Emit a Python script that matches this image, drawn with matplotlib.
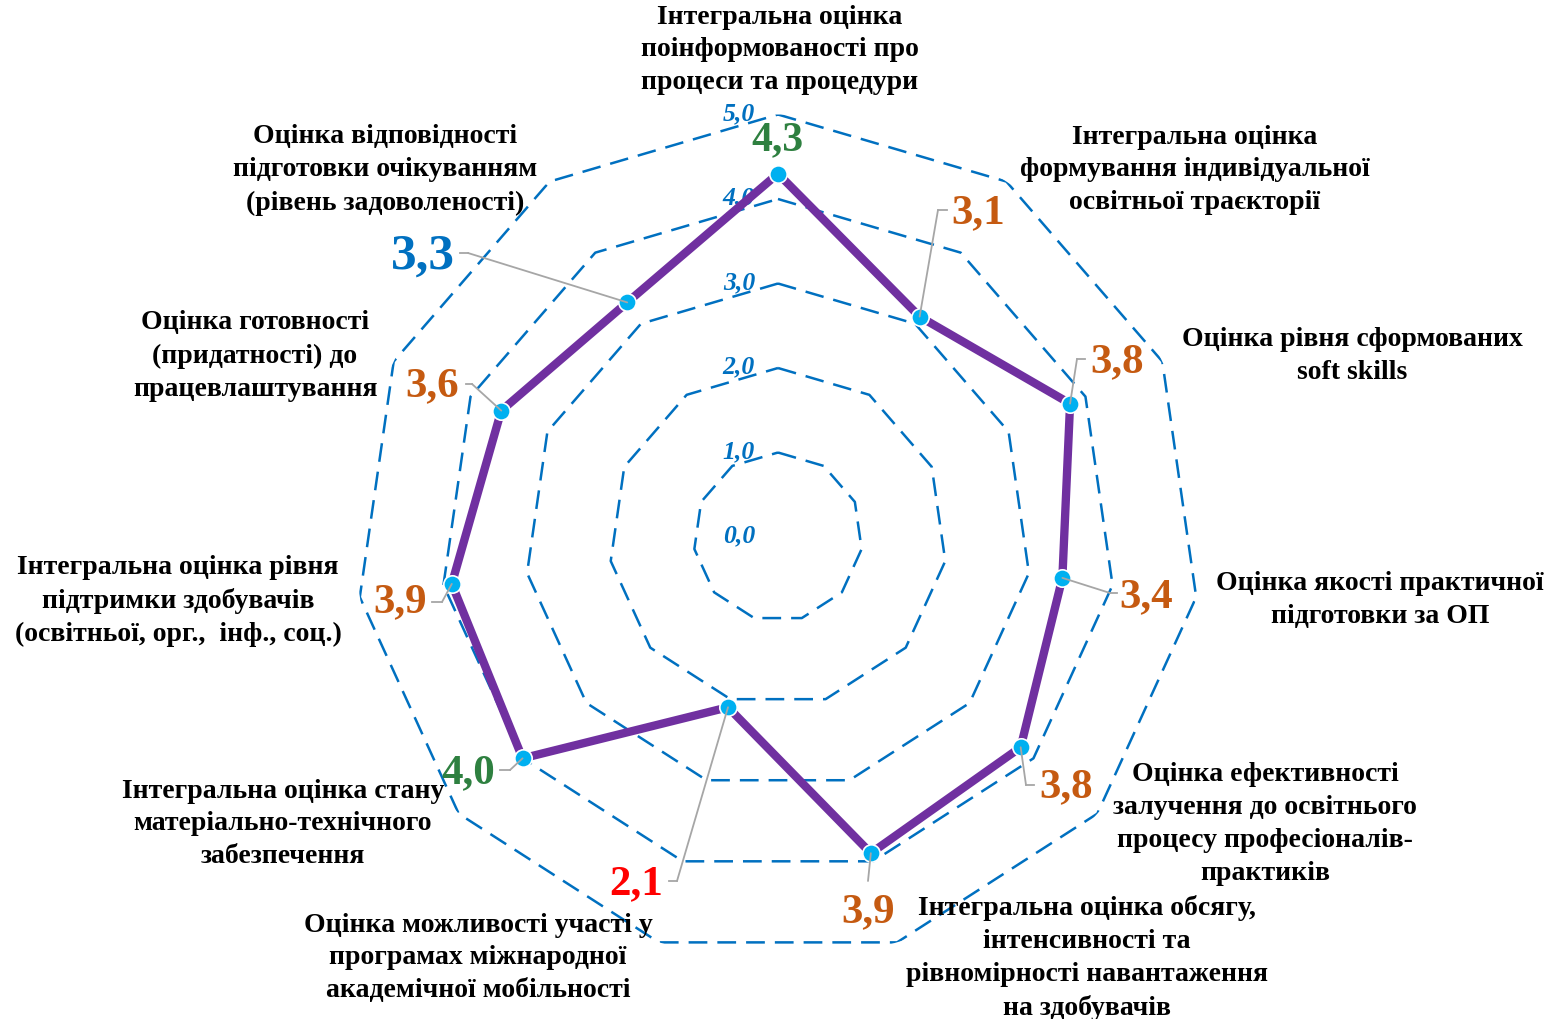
import numpy as np
import matplotlib
matplotlib.use("Agg")
import matplotlib.pyplot as plt
from matplotlib.lines import Line2D

# ---------------- data ----------------
categories = [
    "Інтегральна оцінка\nпоінформованості про\nпроцеси та процедури",
    "Інтегральна оцінка\nформування індивідуальної\nосвітньої траєкторії",
    "Оцінка рівня сформованих\nsoft skills",
    "Оцінка якості практичної\nпідготовки за ОП",
    "Оцінка ефективності\nзалучення до освітнього\nпроцесу професіоналів-\nпрактиків",
    "Інтегральна оцінка обсягу,\nінтенсивності та\nрівномірності навантаження\nна здобувачів",
    "Оцінка можливості участі у\nпрограмах міжнародної\nакадемічної мобільності",
    "Інтегральна оцінка стану\nматеріально-технічного\nзабезпечення",
    "Інтегральна оцінка рівня\nпідтримки здобувачів\n(освітньої, орг.,  інф., соц.)",
    "Оцінка готовності\n(придатності) до\nпрацевлаштування",
    "Оцінка відповідності\nпідготовки очікуванням\n(рівень задоволеності)",
]
values = [4.3, 3.1, 3.8, 3.4, 3.8, 3.9, 2.1, 4.0, 3.9, 3.6, 3.3]
value_labels = ["4,3", "3,1", "3,8", "3,4", "3,8", "3,9", "2,1", "4,0", "3,9", "3,6", "3,3"]
grid_levels = [0, 1, 2, 3, 4, 5]
grid_labels = ["0,0", "1,0", "2,0", "3,0", "4,0", "5,0"]

# ---------------- styles / layout ----------------
W, H = 1559, 1019
GREEN = "#2E8040"
ORANGE = "#C55A11"
BLUE = "#0070C0"
RED = "#FF0000"
label_colors = [GREEN, ORANGE, ORANGE, ORANGE, ORANGE, ORANGE, RED, GREEN, ORANGE, ORANGE, BLUE]
label_sizes = [30, 31, 31, 31, 31, 31, 31, 31, 31, 31, 37]
# text centre (px from top-left), knee of leader, end of horizontal leader segment
label_pos = [(777, 140), (978, 213), (1117, 362), (1146, 597), (1066, 787), (868, 912),
             (636, 884), (468, 773), (400, 602), (432, 386), (423, 257)]
knees = [None, (938, 210), (1077, 359), (1110, 593), (1026, 785), (868, 881),
         (677, 881), (510, 770), (442, 602), (472, 384), (468, 253)]
knee_ends = [None, (947, 210), (1085, 359), (1117, 593), (1034, 785), None,
             (669, 881), (500, 770), (432, 602), (466, 384), (460, 253)]
cat_pos = [(780, 50), (1195, 170), (1352, 356), (1380, 600), (1265, 824), (1087, 958),
           (478, 958), (283, 824), (178, 601), (255, 356), (385, 170)]

plt.rcParams['font.family'] = ['Liberation Serif', 'DejaVu Serif']

fig = plt.figure(figsize=(W / 100, H / 100), dpi=100)
cx, cy, R = 778, 537, 422.5
ax = fig.add_axes([(cx - R) / W, (H - cy - R) / H, 2 * R / W, 2 * R / H], projection='polar')
ax.set_theta_zero_location('N')
ax.set_theta_direction(-1)
ax.set_ylim(0, 5)
ax.grid(False)
ax.set_xticks([])
ax.set_yticks([])
ax.spines['polar'].set_visible(False)
ax.patch.set_alpha(0)

n = len(values)
theta = np.linspace(0, 2 * np.pi, n, endpoint=False)
theta_c = np.append(theta, theta[0])

# polygon grid
for lev in grid_levels[1:]:
    ax.plot(theta_c, [lev] * (n + 1), color=BLUE, lw=1.8, linestyle=(0, (7.5, 4)), zorder=1)

# grid labels
for lev, lab in zip(grid_levels, grid_labels):
    ax.annotate(lab, xy=(0, lev), xytext=(-23, 1), textcoords='offset pixels',
                ha='right', va='center', fontsize=18.5, fontweight='bold', fontstyle='italic',
                color=BLUE, zorder=2)

# data line
vals_c = np.append(values, values[0])
ax.plot(theta_c, vals_c, color='#7030A0', lw=6, zorder=3, solid_joinstyle='miter')
ax.plot(theta, values, linestyle='none', marker='o', markersize=12.5,
        markerfacecolor='#00B0F0', markeredgecolor='white', markeredgewidth=1.2, zorder=4)


def ff(p):
    return (p[0] / W, 1 - p[1] / H)


LEAD = '#A6A6A6'
for i in range(n):
    if knees[i] is not None:
        ax.annotate('', xy=(theta[i], values[i]), xytext=ff(knees[i]),
                    textcoords='figure fraction',
                    arrowprops=dict(arrowstyle='-', color=LEAD, lw=1.3, shrinkA=0, shrinkB=0),
                    zorder=5)
    if knee_ends[i] is not None:
        k0, k1 = ff(knees[i]), ff(knee_ends[i])
        fig.add_artist(Line2D([k0[0], k1[0]], [k0[1], k1[1]], transform=fig.transFigure,
                              color=LEAD, lw=1.3, zorder=5))
    fig.text(*ff(label_pos[i]), value_labels[i], ha='center', va='center',
             fontsize=label_sizes[i], fontweight='bold', color=label_colors[i])

for i in range(n):
    fig.text(*ff(cat_pos[i]), categories[i], ha='center', va='center', fontsize=20,
             fontweight='bold', color='black', linespacing=1.42, multialignment='center')

fig.savefig('out.png', dpi=100)
